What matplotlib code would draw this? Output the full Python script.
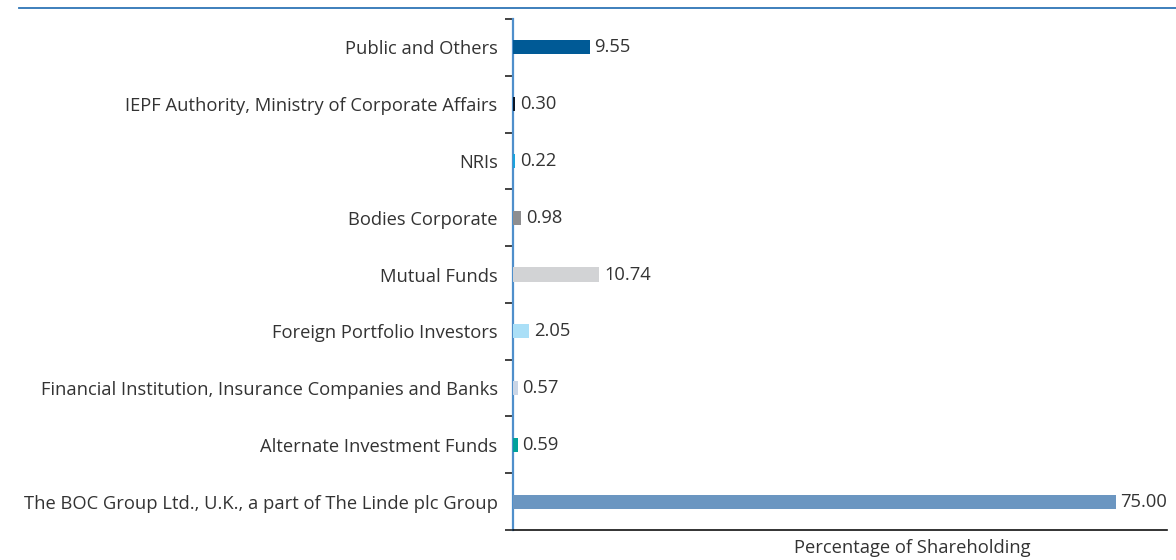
import matplotlib
matplotlib.use("Agg")
import matplotlib.pyplot as plt
import numpy as np

categories = [
    "Public and Others",
    "IEPF Authority, Ministry of Corporate Affairs",
    "NRIs",
    "Bodies Corporate",
    "Mutual Funds",
    "Foreign Portfolio Investors",
    "Financial Institution, Insurance Companies and Banks",
    "Alternate Investment Funds",
    "The BOC Group Ltd., U.K., a part of The Linde plc Group",
]
values = [9.55, 0.30, 0.22, 0.98, 10.74, 2.05, 0.57, 0.59, 75.00]
value_labels = ["9.55", "0.30", "0.22", "0.98", "10.74", "2.05", "0.57", "0.59", "75.00"]
colors = ["#005A96", "#0B1626", "#1BA3DD", "#8E8E90", "#D2D3D5",
          "#AADFF7", "#C9D5E6", "#00A19C", "#6B96C1"]

plt.rcParams['font.family'] = ['Open Sans', 'DejaVu Sans']
FS = 13.2
TXT = "#333333"

fig = plt.figure(figsize=(11.76, 5.6), dpi=100)
ax = fig.add_axes([513/1176, 1-530/560, (1167-513)/1176, (530-19)/560])

y = np.arange(len(categories))
ax.barh(y, values, height=0.25, color=colors, zorder=3)
ax.set_ylim(len(categories)-0.5, -0.5)
ax.set_xlim(0, 81.4)

for yi, v, lab in zip(y, values, value_labels):
    ax.annotate(lab, (v, yi), xytext=(3.5, 0), textcoords="offset points",
                va="center", ha="left", fontsize=FS, color=TXT)

ax.set_yticks(y)
ax.set_yticklabels(categories, fontsize=FS, color=TXT)
ax.tick_params(axis="y", which="major", length=0, pad=11)
ax.set_yticks(np.arange(-0.5, len(categories), 1.0), minor=True)
ax.tick_params(axis="y", which="minor", length=6, width=1.2, color="#222222", direction="out")
ax.set_xticks([])

for s in ["top", "right"]:
    ax.spines[s].set_visible(False)
ax.spines["left"].set_color("#4F8FCB")
ax.spines["left"].set_linewidth(1.6)
ax.spines["bottom"].set_color("#111111")
ax.spines["bottom"].set_linewidth(1.2)

fig.text(912/1176, 1-548/560, "Percentage of Shareholding", ha="center", va="center",
         fontsize=FS, color=TXT)

fig.add_artist(plt.Line2D([19/1176, 1.0], [1-8/560, 1-8/560], transform=fig.transFigure,
                          color="#2E75B6", linewidth=1.3))

fig.savefig("out.png", dpi=100)
